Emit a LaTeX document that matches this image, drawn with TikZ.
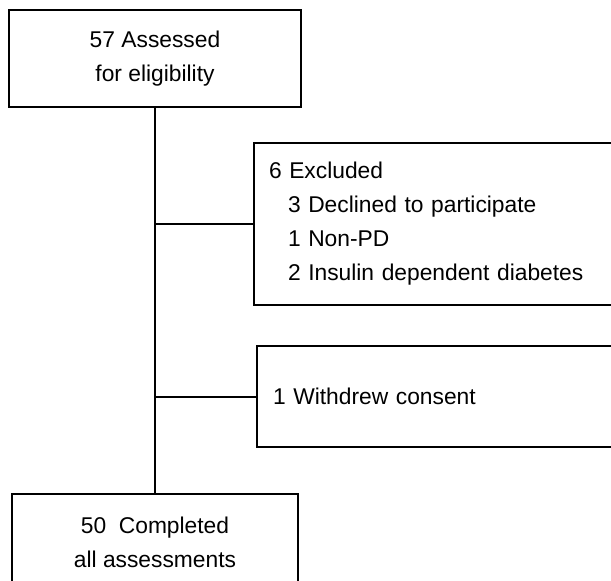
\documentclass[tikz,border=0pt]{standalone}
\usepackage{fontspec}
\setmainfont{Liberation Sans}
\usetikzlibrary{positioning}
\tikzset{
  flowbox/.style={draw, line width=1pt, align=center, inner sep=0pt, font=\fontsize{11.4}{17}\selectfont},
  sidebox/.style={draw, line width=1pt, align=left, anchor=west, font=\fontsize{11.4}{17}\selectfont},
  link/.style={line width=1pt}
}
\newcommand{\indentitem}{\hspace*{9.5pt}}

\begin{document}
\begin{tikzpicture}[x=0.5pt, y=-0.5pt]
    % Fix the frame
    \useasboundingbox (0,0) rectangle (611,580);
    \clip (0,0) rectangle (611,580);

    % Define nodes
    \node[flowbox, minimum width=146pt, minimum height=48.5pt] (assessed) at (155,58.5) {57 Assessed\\for eligibility};
    \node[flowbox, minimum width=143pt, minimum height=48.5pt, below = 192.5pt of assessed] (completed) {50~ Completed\\all assessments};
    \node[sidebox, text width=171pt, inner xsep=7.5pt, minimum height=81pt] (excluded) at (253,224) {6 Excluded\\ \indentitem 3 Declined to participate\\ \indentitem 1 Non-PD\\ \indentitem 2 Insulin dependent diabetes};
    \node[sidebox, text width=169pt, inner xsep=8pt, minimum height=50.5pt] (withdrew) at (256,396.5) {1 Withdrew consent};

    % Connect nodes
    \draw[link] (assessed) -- (completed);
    \draw[link] (assessed.south |- excluded.west) -- (excluded.west);
    \draw[link] (assessed.south |- withdrew.west) -- (withdrew.west);
\end{tikzpicture}
\end{document}
